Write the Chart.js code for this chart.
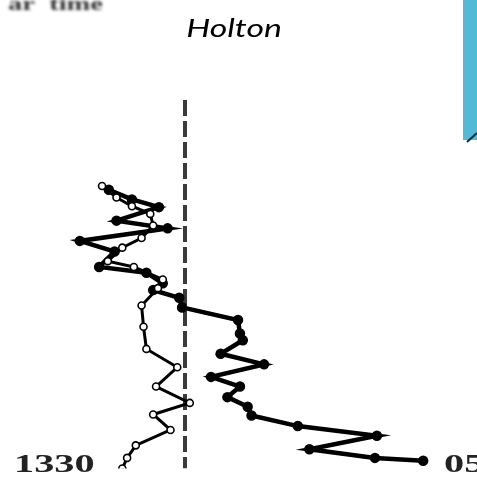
<!DOCTYPE html>
<html>
<head>
<meta charset="utf-8">
<script src="https://cdn.jsdelivr.net/npm/chart.js@4.4.1/dist/chart.umd.min.js"></script>
<style>
  html, body { margin: 0; padding: 0; background: #ffffff; }
  #wrap { width: 477px; height: 477px; position: relative; }
</style>
</head>
<body>
<div id="wrap"><canvas id="c" width="477" height="477"></canvas></div>
<script>
// Profile traces: horizontal position (value) against vertical position (depth), in plot units
const solidX = [104, 128, 156, 112, 165, 74, 110, 94, 143, 160, 150, 177, 180, 238, 240, 243, 220, 265, 210, 240, 227, 248, 252, 300, 382, 312, 380, 430];
const solidY = [188, 198, 206, 220, 228, 241, 252, 268, 274, 285, 292, 300, 310, 323, 337, 344, 358, 369, 382, 392, 403, 413, 422, 433, 443, 457, 466, 469];

const openX = [97, 112, 128, 147, 150, 138, 118, 103, 130, 160, 155, 138, 140, 143, 175, 153, 188, 150, 168, 132, 123, 118];
const openY = [184, 196, 205, 213, 225, 238, 248, 262, 268, 281, 290, 308, 330, 353, 372, 392, 409, 421, 437, 453, 466, 477];

// Reference (zero) line
const refX = [183, 183];
const refY = [95, 477];

// Text labels
const titleText = 'Holton';
const leftLabel = '1330';
const rightLabel = '05';

const pts = (xs, ys) => xs.map((x, i) => ({ x: x, y: ys[i] }));

const decor = {
  id: 'decor',
  beforeDatasetsDraw(chart) {
    const ctx = chart.ctx;
    ctx.save();
    // faint header text cut at the top edge
    ctx.filter = 'blur(1.4px)';
    ctx.fillStyle = '#333';
    ctx.font = 'bold 19px "Liberation Serif"';
    ctx.textBaseline = 'alphabetic';
    ctx.translate(8, 10);
    ctx.scale(1.5, 1);
    ctx.fillText('ar  time', 0, 0);
    ctx.restore();

    ctx.save();
    // cyan panel at the right edge
    ctx.fillStyle = '#52b9d6';
    ctx.fillRect(463, 0, 14, 140);
    ctx.strokeStyle = '#1c2a30';
    ctx.lineWidth = 2;
    ctx.beginPath();
    ctx.moveTo(467, 142);
    ctx.lineTo(477, 133);
    ctx.stroke();
    ctx.restore();
  },
  afterDatasetsDraw(chart) {
    const ctx = chart.ctx;
    ctx.save();
    ctx.fillStyle = '#000';
    ctx.font = 'italic 26px "Comic Sans MS", Lato, "DejaVu Sans"';
    ctx.textAlign = 'center';
    ctx.textBaseline = 'alphabetic';
    ctx.translate(234, 37);
    ctx.scale(1.3, 1);
    ctx.fillText(titleText, 0, 0);
    ctx.restore();

    ctx.save();
    ctx.fillStyle = '#222';
    ctx.font = 'bold 26px "Liberation Serif"';
    ctx.textBaseline = 'alphabetic';
    ctx.textAlign = 'left';
    ctx.translate(14, 472);
    ctx.scale(1.55, 1);
    ctx.fillText(leftLabel, 0, 0);
    ctx.restore();

    ctx.save();
    ctx.fillStyle = '#222';
    ctx.font = 'bold 26px "Liberation Serif"';
    ctx.textBaseline = 'alphabetic';
    ctx.translate(444, 472);
    ctx.scale(1.55, 1);
    ctx.fillText(rightLabel, 0, 0);
    ctx.restore();
  }
};

new Chart(document.getElementById('c'), {
  type: 'scatter',
  data: {
    datasets: [
      {
        data: pts(refX, refY),
        showLine: true,
        borderColor: '#3a3a3a',
        borderWidth: 4,
        borderDash: [16, 5],
        pointRadius: 0,
        order: 3
      },
      {
        data: pts(openX, openY),
        showLine: true,
        borderColor: '#000',
        borderWidth: 3,
        pointRadius: 3.5,
        pointStyle: 'circle',
        pointBackgroundColor: '#fff',
        pointBorderColor: '#000',
        pointBorderWidth: 1.6,
        order: 1
      },
      {
        data: pts(solidX, solidY),
        showLine: true,
        borderColor: '#000',
        borderWidth: 4.5,
        pointRadius: 3,
        pointBackgroundColor: '#000',
        pointBorderColor: '#000',
        order: 2
      }
    ]
  },
  options: {
    responsive: false,
    animation: false,
    layout: { padding: 0 },
    plugins: { legend: { display: false }, tooltip: { enabled: false } },
    scales: {
      x: { type: 'linear', min: 0, max: 477, display: false },
      y: { type: 'linear', min: 0, max: 477, reverse: true, display: false }
    }
  },
  plugins: [decor]
});
</script>
</body>
</html>
